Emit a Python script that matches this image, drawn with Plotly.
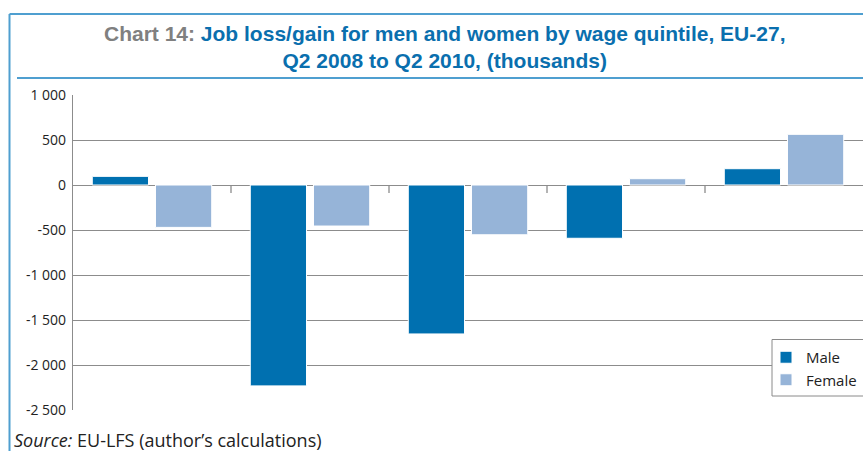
import plotly.graph_objects as go

# Job loss/gain by wage quintile, EU-27, Q2 2008 to Q2 2010 (thousands)
quintiles = ["Quintile 1", "Quintile 2", "Quintile 3", "Quintile 4", "Quintile 5"]
male = [96, -2232, -1655, -592, 181]
female = [-471, -456, -553, 70, 563]

y_tickvals = [1000, 500, 0, -500, -1000, -1500, -2000, -2500]
y_ticktext = ["1 000", "500", "0", "-500", "-1 000", "-1 500", "-2 000", "-2 500"]

MALE_COLOR = "#0070b0"
FEMALE_COLOR = "#96b4d8"
FRAME_COLOR = "#4f9fd0"
GRID_COLOR = "#8c8c8c"

W, H = 863, 451
M_L, M_R, M_T, M_B = 73, 0, 95, 41
PW, PH = W - M_L - M_R, H - M_T - M_B


def px_x(x):
    return (x - M_L) / PW


def px_y(y):
    return (H - M_B - y) / PH


fig = go.Figure()
fig.add_trace(go.Bar(x=quintiles, y=male, name="Male",
                     marker=dict(color=MALE_COLOR, line=dict(color="white", width=1))))
fig.add_trace(go.Bar(x=quintiles, y=female, name="Female",
                     marker=dict(color=FEMALE_COLOR, line=dict(color="white", width=1))))

font_main = "Open Sans, Noto Sans, sans-serif"

fig.update_layout(
    width=W, height=H,
    margin=dict(l=M_L, r=M_R, t=M_T, b=M_B, autoexpand=False),
    paper_bgcolor="white", plot_bgcolor="white",
    barmode="group", bargap=0.2, bargroupgap=0.11,
    showlegend=True,
    legend=dict(x=px_x(766), y=px_y(341), xanchor="left", yanchor="top",
                borderwidth=0, bgcolor="rgba(0,0,0,0)",
                font=dict(family=font_main, size=15, color="#222"),
                itemwidth=30, tracegroupgap=0),
    font=dict(family=font_main, color="#222"),
)

fig.update_xaxes(
    type="category", range=[-0.5, 4.5],
    showgrid=False, zeroline=False, showline=False,
    showticklabels=False, ticks="",
)

fig.update_yaxes(
    range=[-2500, 1000],
    tickmode="array", tickvals=y_tickvals, ticktext=y_ticktext,
    showgrid=True, gridcolor=GRID_COLOR, gridwidth=1.3,
    zeroline=True, zerolinecolor=GRID_COLOR, zerolinewidth=1.3,
    showline=True, linecolor=GRID_COLOR, linewidth=1.3,
    ticks="", ticklabelstandoff=3,
    tickfont=dict(family=font_main, size=14, color="#222"),
)

# Short separators hanging below the zero line between quintile groups
for i in range(len(quintiles) - 1):
    fig.add_shape(type="line", xref="x", yref="y", ysizemode="pixel", yanchor=0,
                  x0=i + 0.5, x1=i + 0.5, y0=0, y1=-8,
                  line=dict(color=GRID_COLOR, width=1.3))

# Legend box (runs off the right edge)
fig.add_shape(type="rect", xref="paper", yref="paper", layer="above",
              x0=px_x(772), x1=px_x(W + 10), y0=px_y(339.5), y1=px_y(396),
              line=dict(color="#8a8a8a", width=1), fillcolor="white")

# Frame around the chart and rule under the title
line_style = dict(color=FRAME_COLOR, width=2)
fig.add_shape(type="line", xref="paper", yref="paper",
              x0=px_x(9.5), x1=px_x(9.5), y0=px_y(14), y1=px_y(H + 5), line=line_style)
fig.add_shape(type="line", xref="paper", yref="paper",
              x0=px_x(9.5), x1=px_x(W + 5), y0=px_y(14), y1=px_y(14), line=line_style)
fig.add_shape(type="line", xref="paper", yref="paper",
              x0=px_x(17), x1=px_x(W + 5), y0=px_y(78), y1=px_y(78), line=line_style)

# Title
title_font = "Liberation Sans, Arial, sans-serif"
fig.add_annotation(
    xref="paper", yref="paper", x=px_x(444), y=px_y(47), xanchor="center", yanchor="middle",
    showarrow=False, align="center",
    text=("<span style='color:#808080'>Chart 14:</span> Job loss/gain for men and women by wage quintile, EU-27,"
          "<br>Q2 2008 to Q2 2010, (thousands)"),
    font=dict(family=title_font, size=21, color="#0a6fae", weight="bold"),
)

# Source note
fig.add_annotation(
    xref="paper", yref="paper", x=px_x(12), y=px_y(440), xanchor="left", yanchor="middle",
    showarrow=False,
    text="<i>Source:</i> EU-LFS (author’s calculations)",
    font=dict(family=font_main, size=18, color="#222"),
)

fig.write_html("out.html")
